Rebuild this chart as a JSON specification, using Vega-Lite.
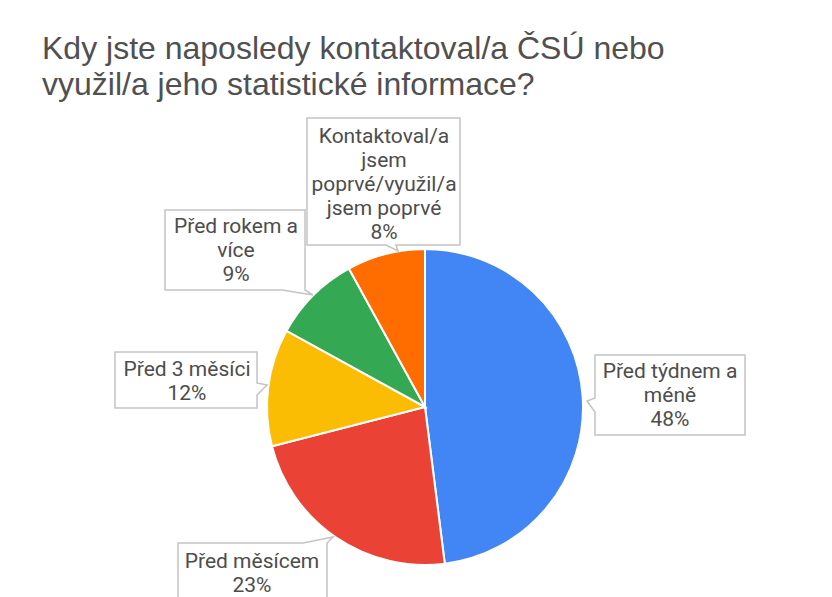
{
  "$schema": "https://vega.github.io/schema/vega-lite/v6.json",
  "autosize": {"type": "none"},
  "width": 838,
  "height": 800,
  "padding": {"left": 6, "top": 7, "right": -12, "bottom": -210},
  "background": "white",
  "config": {
    "view": {"stroke": "#dcdcdc", "strokeWidth": 2},
    "text": {"font": "Roboto", "fontSize": 21, "color": "#4d4d4d", "lineBreak": "\n", "lineHeight": 24, "align": "center", "baseline": "middle"}
  },
  "title": {
    "text": ["Kdy jste naposledy kontaktoval/a ČSÚ nebo", "využil/a jeho statistické informace?"],
    "anchor": "start",
    "orient": "top",
    "frame": "group",
    "offset": -95,
    "dx": 36,
    "font": "Liberation Sans",
    "fontSize": 32,
    "fontWeight": "normal",
    "color": "#505050",
    "lineHeight": 36
  },
  "data": {
    "values": [
      {"kategorie": "Před týdnem a méně", "podil": 48, "poradi": 1, "popisek": "Před týdnem a\nméně\n48%"},
      {"kategorie": "Před měsícem", "podil": 23, "poradi": 2, "popisek": "Před měsícem\n23%"},
      {"kategorie": "Před 3 měsíci", "podil": 12, "poradi": 3, "popisek": "Před 3 měsíci\n12%"},
      {"kategorie": "Před rokem a více", "podil": 9, "poradi": 4, "popisek": "Před rokem a\nvíce\n9%"},
      {"kategorie": "Kontaktoval/a jsem poprvé/využil/a jsem poprvé", "podil": 8, "poradi": 5, "popisek": "Kontaktoval/a\njsem\npoprvé/využil/a\njsem poprvé\n8%"}
    ]
  },
  "layer": [
    {
      "mark": {"type": "arc", "outerRadius": 158, "stroke": "white", "strokeWidth": 2},
      "encoding": {
        "theta": {"field": "podil", "type": "quantitative", "stack": true},
        "order": {"field": "poradi", "type": "quantitative"},
        "color": {
          "field": "kategorie",
          "type": "nominal",
          "legend": null,
          "scale": {
            "domain": ["Před týdnem a méně", "Před měsícem", "Před 3 měsíci", "Před rokem a více", "Kontaktoval/a jsem poprvé/využil/a jsem poprvé"],
            "range": ["#4285F4", "#EA4335", "#FBBC04", "#34A853", "#FF6D01"]
          }
        }
      }
    },
    {
      "mark": {"type": "point", "filled": true, "fill": "white", "stroke": "#c4c4c4", "strokeWidth": 1.5, "size": 4, "opacity": 1},
      "encoding": {
        "shape": {
          "field": "kategorie",
          "type": "nominal",
          "legend": null,
          "scale": {
            "domain": ["Před týdnem a méně", "Před měsícem", "Před 3 měsíci", "Před rokem a více", "Kontaktoval/a jsem poprvé/využil/a jsem poprvé"],
            "range": [
              "M170,-52H320V28H170V5L162,-6L170,-9Z",
              "M-247,136H-122L-92,130L-98,136V194H-247Z",
              "M-310,-55H-168V-24L-158,-22L-168,-12V1H-310Z",
              "M-260,-197H-120V-117L-112,-112L-143,-117H-260Z",
              "M-118,-289H35V-162H-29L-27,-156L-39,-162H-118Z"
            ]
          }
        }
      }
    },
    {
      "transform": [{"filter": "datum.poradi == 1"}],
      "mark": {"type": "text", "dx": 245, "dy": -35},
      "encoding": {"text": {"field": "popisek", "type": "nominal"}}
    },
    {
      "transform": [{"filter": "datum.poradi == 2"}],
      "mark": {"type": "text", "dx": -173, "dy": 155},
      "encoding": {"text": {"field": "popisek", "type": "nominal"}}
    },
    {
      "transform": [{"filter": "datum.poradi == 3"}],
      "mark": {"type": "text", "dx": -238, "dy": -37},
      "encoding": {"text": {"field": "popisek", "type": "nominal"}}
    },
    {
      "transform": [{"filter": "datum.poradi == 4"}],
      "mark": {"type": "text", "dx": -189, "dy": -180},
      "encoding": {"text": {"field": "popisek", "type": "nominal"}}
    },
    {
      "transform": [{"filter": "datum.poradi == 5"}],
      "mark": {"type": "text", "dx": -41, "dy": -270},
      "encoding": {"text": {"field": "popisek", "type": "nominal"}}
    }
  ]
}
